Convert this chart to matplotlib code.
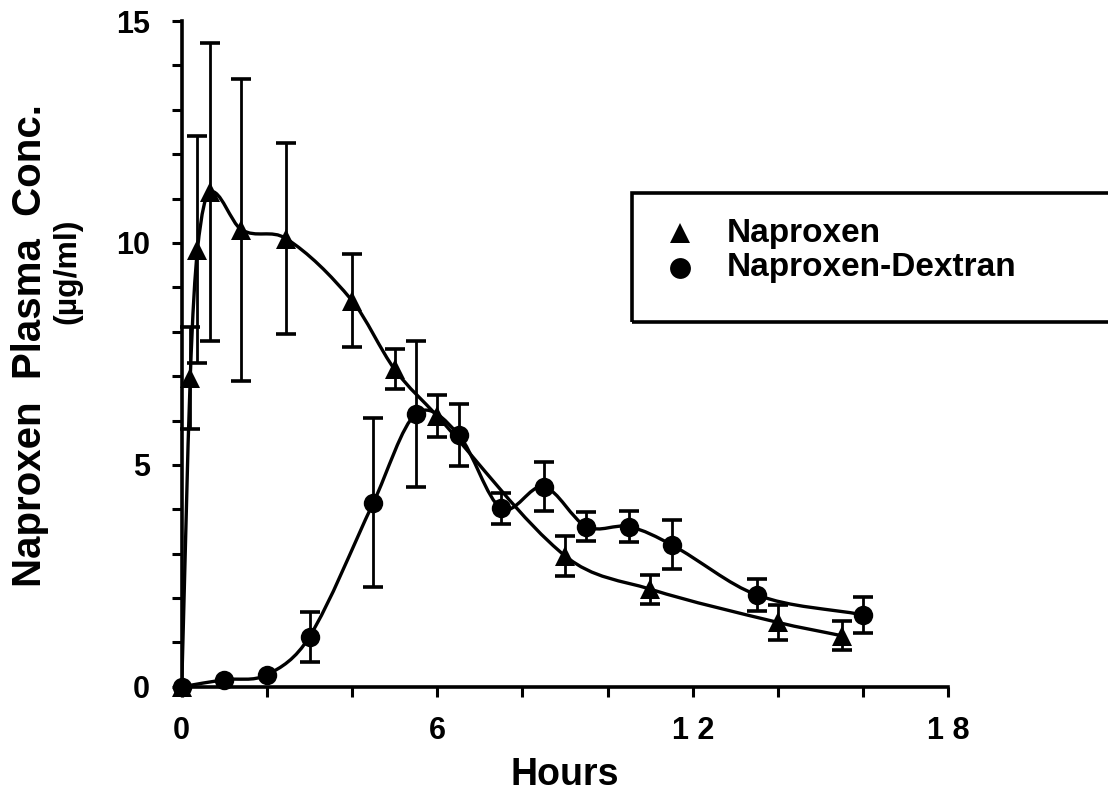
import numpy as np
import matplotlib
matplotlib.use("Agg")
import matplotlib.pyplot as plt
from matplotlib.path import Path
from matplotlib.patches import PathPatch, Rectangle
from matplotlib.lines import Line2D

# plasma levels after dosing (mean +/- sd)
nap_t = [0, 0.2, 0.37, 0.66, 1.4, 2.45, 4.0, 5.0, 6.0, 9.0, 11.0, 14.0, 15.5]
nap_c = [0, 6.95, 9.85, 11.15, 10.3, 10.1, 8.7, 7.15, 6.1, 2.95, 2.2, 1.45, 1.15]
nap_sd = [0, 1.15, 2.55, 3.35, 3.4, 2.15, 1.05, 0.45, 0.48, 0.45, 0.33, 0.4, 0.33]

dex_t = [0, 1.0, 2.0, 3.0, 4.5, 5.5, 6.5, 7.5, 8.5, 9.5, 10.5, 11.5, 13.5, 16.0]
dex_c = [0, 0.16, 0.27, 1.13, 4.15, 6.15, 5.68, 4.02, 4.51, 3.61, 3.61, 3.2, 2.07, 1.62]
dex_sd = [0, 0, 0, 0.56, 1.9, 1.65, 0.7, 0.35, 0.55, 0.32, 0.35, 0.55, 0.37, 0.4]

x_ticks = [0, 6, 12, 18]
x_labels = ["0", "6", "1 2", "1 8"]
y_ticks = [0, 5, 10, 15]

FONT = ["Liberation Sans", "DejaVu Sans"]
plt.rcParams["font.family"] = FONT
plt.rcParams["font.weight"] = "bold"


def smooth_path(x, y):
    """Cubic Hermite curve through the points, as Bezier segments."""
    x = np.asarray(x, float)
    y = np.asarray(y, float)
    n = len(x)
    m = np.zeros(n)
    for i in range(n):
        a = max(i - 1, 0)
        b = min(i + 1, n - 1)
        m[i] = (y[b] - y[a]) / (x[b] - x[a])
    verts = [(x[0], y[0])]
    codes = [Path.MOVETO]
    for i in range(n - 1):
        h = x[i + 1] - x[i]
        verts += [(x[i] + h / 3, y[i] + m[i] * h / 3),
                  (x[i + 1] - h / 3, y[i + 1] - m[i + 1] * h / 3),
                  (x[i + 1], y[i + 1])]
        codes += [Path.CURVE4] * 3
    return Path(verts, codes)


fig = plt.figure(figsize=(11.08, 7.94), dpi=100)
ax = fig.add_axes([0.164, 0.135, 0.692, 0.8385])

for t, c, sd, mk in [(nap_t, nap_c, nap_sd, "^"), (dex_t, dex_c, dex_sd, "o")]:
    ax.add_patch(PathPatch(smooth_path(t, c), fill=False, lw=2.4,
                           ec="black", capstyle="round", zorder=3))
    # only draw bars where there is a spread
    has_sd = [i for i, s in enumerate(sd) if s > 0]
    ax.errorbar([t[i] for i in has_sd], [c[i] for i in has_sd],
                yerr=[sd[i] for i in has_sd], fmt="none", ecolor="black",
                elinewidth=2.0, capsize=7, capthick=2.6, zorder=4,
                clip_on=False)
    ax.plot(t, c, mk, color="black", ms=14, mew=0, zorder=5, clip_on=False)

ax.set_xlim(0, 18)
ax.set_ylim(0, 15)
ax.set_xticks(x_ticks)
ax.set_xticklabels(x_labels)
ax.set_xticks(np.arange(0, 19, 2), minor=True)
ax.set_yticks(y_ticks)
ax.set_yticks(np.arange(0, 16, 1), minor=True)

for side in ["top", "right"]:
    ax.spines[side].set_visible(False)
for side in ["left", "bottom"]:
    ax.spines[side].set_linewidth(2.6)

ax.tick_params(axis="both", which="both", direction="out", width=2.2,
               length=7, labelsize=22)
ax.tick_params(axis="x", which="major", pad=14)
ax.tick_params(axis="y", which="major", pad=16)
for lab in ax.get_xticklabels() + ax.get_yticklabels():
    lab.set_fontweight("bold")

ax.set_xlabel("Hours", fontsize=27, fontweight="bold", labelpad=8)

fig.text(0.027, 0.565, "Naproxen  Plasma  Conc.", rotation=90, fontsize=29,
         fontweight="bold", ha="center", va="center")
fig.text(0.061, 0.658, "(\u00b5g/ml)", rotation=90, fontsize=23,
         fontweight="bold", ha="center", va="center")

# legend box runs off the right edge of the page
fig.add_artist(Rectangle((0.570, 0.5945), 0.45, 0.1625, fill=False,
                         lw=2.6, ec="black", transform=fig.transFigure,
                         clip_on=False))
fig.add_artist(Line2D([0.614], [0.7065], marker="^", ms=15, color="black",
                      mew=0, transform=fig.transFigure))
fig.add_artist(Line2D([0.614], [0.6625], marker="o", ms=15, color="black",
                      mew=0, transform=fig.transFigure))
fig.text(0.656, 0.7065, "Naproxen", fontsize=24, fontweight="bold",
         va="center")
fig.text(0.656, 0.6625, "Naproxen-Dextran", fontsize=24, fontweight="bold",
         va="center")

fig.savefig("out.png", dpi=100)
